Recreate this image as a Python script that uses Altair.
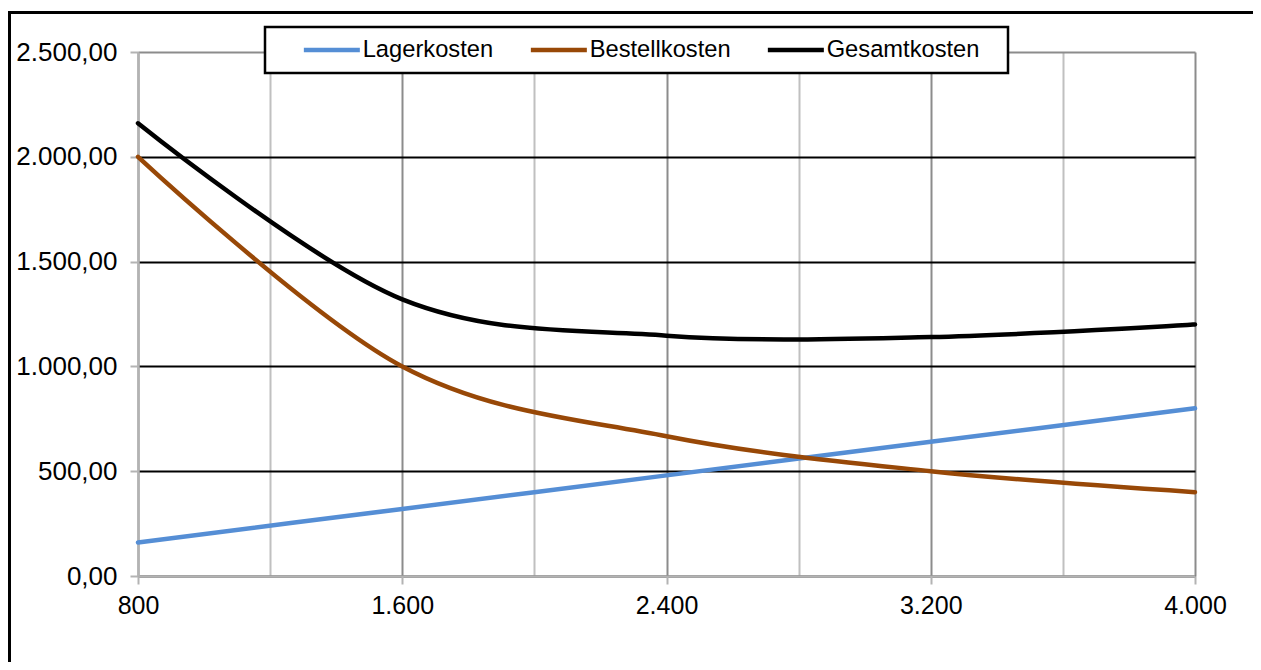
import altair as alt
import pandas as pd

# Data
menge = [800, 1600, 2400, 3200, 4000]
lagerkosten = [160, 320, 480, 640, 800]
bestellkosten = [2000, 1000, 666.67, 500, 400]
gesamtkosten = [2160, 1320, 1146.67, 1140, 1200]

series = ["Lagerkosten", "Bestellkosten", "Gesamtkosten"]
colors = ["#558ED5", "#984807", "#000000"]

x_ticks = [800, 1200, 1600, 2000, 2400, 2800, 3200, 3600, 4000]
y_ticks = [0, 500, 1000, 1500, 2000, 2500]

rows = []
for name, vals in zip(series, [lagerkosten, bestellkosten, gesamtkosten]):
    for m, v in zip(menge, vals):
        rows.append({"Menge": m, "Kosten": v, "Kostenart": name})
df = pd.DataFrame(rows)

FONT = "Liberation Sans"

x_axis = alt.Axis(
    values=x_ticks,
    labelExpr="datum.value % 800 == 0 ? replace(format(datum.value, ','), ',', '.') : ''",
    title=None,
    grid=True,
    gridColor={"condition": {"test": "datum.value % 800 == 0", "value": "#8c8c8c"}, "value": "#c0c0c0"},
    gridWidth=2,
    domainColor="#b3b3b3",
    domainWidth=2.5,
    tickColor={"condition": {"test": "datum.value % 800 == 0", "value": "#b3b3b3"}, "value": "transparent"},
    tickSize=8,
    tickWidth=2,
    labelPadding=9,
    labelFontSize=25,
    labelFlush=False,
    labelOverlap=False,
)

y_axis = alt.Axis(
    values=y_ticks,
    labelExpr="replace(replace(replace(format(datum.value, ',.2f'), ',', '#'), '.', ','), '#', '.')",
    title=None,
    grid=True,
    gridColor={"condition": {"test": "datum.value == 2500", "value": "#8c8c8c"}, "value": "#000000"},
    gridWidth=2,
    domainColor="#b3b3b3",
    domainWidth=2.5,
    tickColor="#b3b3b3",
    tickSize=8,
    tickWidth=2,
    labelPadding=13,
    labelFontSize=26,
    labelOverlap=False,
)

lines = alt.Chart(df).mark_line(interpolate="cardinal", strokeWidth=4.5, strokeCap="round").encode(
    x=alt.X("Menge:Q", scale=alt.Scale(domain=[800, 4000], nice=False, zero=False), axis=x_axis),
    y=alt.Y("Kosten:Q", scale=alt.Scale(domain=[0, 2500], nice=False), axis=y_axis),
    color=alt.Color(
        "Kostenart:N",
        scale=alt.Scale(domain=series, range=colors),
        sort=series,
        legend=alt.Legend(
            title=" ",
            titleOrient="right",
            titlePadding=18,
            titleFontSize=11,
            orient="none",
            legendX=127,
            legendY=-25,
            direction="horizontal",
            symbolType="M-3.5,0H3.5",
            symbolSize=256,
            symbolStrokeWidth=4.5,
            labelFontSize=23.7,
            labelFont=FONT,
            labelColor="black",
            labelOffset=19,
            labelLimit=400,
            columnPadding=9,
            padding=11,
            symbolOffset=44,
            strokeColor="black",
            fillColor="white",
        ),
    ),
)

border = alt.Chart(pd.DataFrame({"a": [0]})).mark_rect(
    fillOpacity=0, stroke="black", strokeWidth=3
).encode(
    x=alt.value(-128.5),
    x2=alt.value(1300),
    y=alt.value(-39.5),
    y2=alt.value(800),
)

chart = (
    alt.layer(lines, border)
    .properties(
        width=1057,
        height=524,
        autosize=alt.AutoSizeParams(type="none"),
        padding={"left": 130, "top": 44, "right": 58, "bottom": 86},
    )
    .configure_view(stroke=None)
    .configure_axis(labelFont=FONT, labelColor="black")
    .configure_legend(strokeWidth=2.5)
)

chart.save("out.html", embed_options={"renderer": "svg", "actions": False})
